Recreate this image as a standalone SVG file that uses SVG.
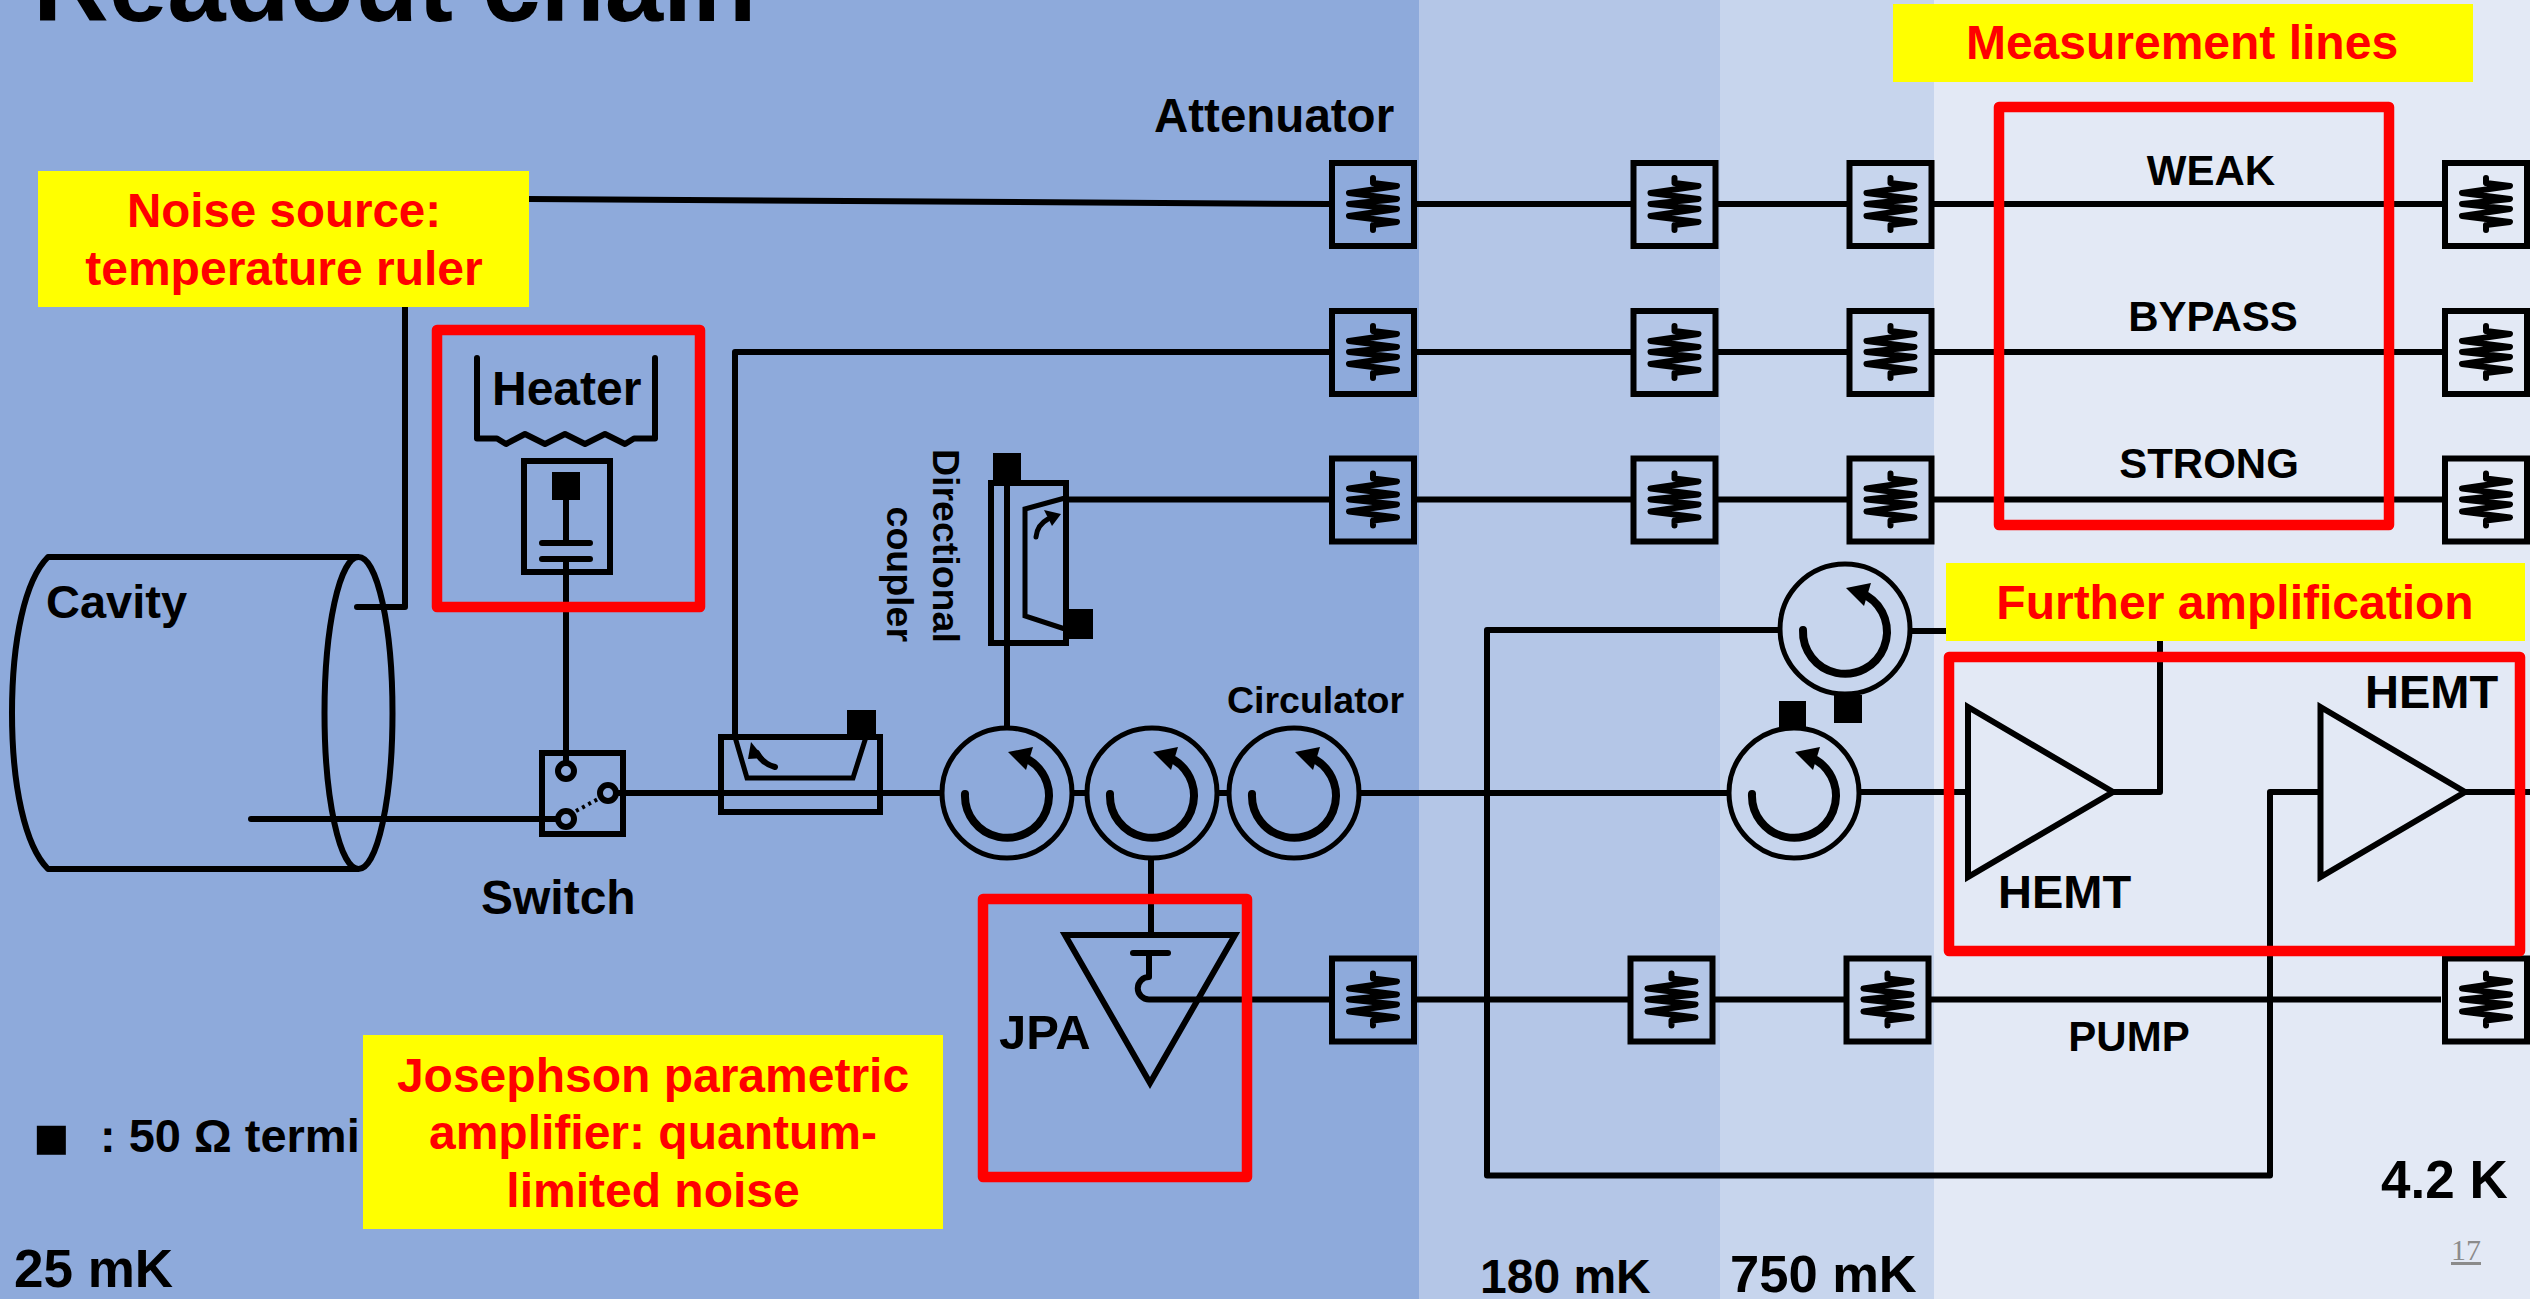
<svg xmlns="http://www.w3.org/2000/svg" xmlns:xlink="http://www.w3.org/1999/xlink" width="2530" height="1299" viewBox="0 0 2530 1299">
<style>
text{font-family:"Liberation Sans",Arial,sans-serif;font-weight:bold;fill:#000}
.red{fill:#f00;text-anchor:middle}
.mid{text-anchor:middle}
.ln{fill:none;stroke:#000;stroke-width:6;stroke-linejoin:round}
.tri{fill:none;stroke:#000;stroke-width:6;stroke-linejoin:miter;stroke-miterlimit:8}
.th{fill:none;stroke:#000;stroke-width:5}
.box{fill:none;stroke:#000;stroke-width:6}
.frame{fill:none;stroke:#f00;stroke-width:10.5;stroke-linejoin:round}
.yel{fill:#ff0}
.term{fill:#000}
</style>
<defs>
<g id="att">
<rect class="box" x="-41" y="-41" width="82" height="83"/>
<path d="M0,-26V-21L24,-18L-24,-11L24,-5L-24,0L24,5L-24,12L24,18L0,21V26" fill="none" stroke="#000" stroke-width="6" stroke-linecap="round" stroke-linejoin="round"/>
</g>
<g id="circ">
<circle r="65" fill="none" stroke="#000" stroke-width="5"/>
<path d="M-42,1A42,42 0 1 0 22,-33" fill="none" stroke="#000" stroke-width="8" stroke-linecap="round"/>
<path d="M1,-41L26,-46L19,-23Z" fill="#000"/>
</g>
</defs>

<g id="backgrounds">
<rect x="0" y="0" width="1419" height="1299" fill="#8eaadb"/>
<rect x="1419" y="0" width="301" height="1299" fill="#b4c6e7"/>
<rect x="1720" y="0" width="214" height="1299" fill="#c7d5ed"/>
<rect x="1934" y="0" width="596" height="1299" fill="#e3e9f5"/>
</g>

<text id="title" x="33" y="21" font-size="105">Readout chain</text>

<g id="connectors">
<path class="ln" d="M529,199L1329,204M1417,204H1631M1718,204H1847M1934,204H2442"/>
<path class="ln" d="M735,737V352H1329M1417,352H1631M1718,352H1847M1934,352H2442"/>
<path class="ln" d="M1064,499.500H1329M1417,499.500H1631M1718,499.500H1847M1934,499.500H2442"/>
<path class="ln" d="M1149,999.500H1329M1415,999.500H1628M1715,999.500H1844M1931,999.500H2441"/>
<path class="ln" d="M405,307V607H357" stroke-linecap="round"/>
<path class="ln" d="M251,819H557" stroke-linecap="round"/>
<path class="ln" d="M566,560V762"/>
<path class="ln" d="M618,793H941M1072,793H1087M1217,793H1229M1360,793H1729M1860,792H1967"/>
<path class="ln" d="M1007,726V482"/>
<path class="ln" d="M1151,860V935"/>
<path class="ln" d="M1780,630H1487V1175.500H2270V792H2320" stroke-linejoin="round"/>
<path class="ln" d="M1910,631H2160V792H2113"/>
<path class="ln" d="M2466,792H2530"/>
</g>

<g id="cavity">
<path class="ln" d="M359,557H48C25,580 12,640 12,713C12,786 25,846 48,869H359"/>
<ellipse class="ln" cx="358.500" cy="713" rx="34" ry="156"/>
<text x="46" y="618" font-size="47">Cavity</text>
</g>

<g id="heater">
<path class="ln" d="M477,358V438.500H497L506,444L525,434L545,444L565,434L585,444L605,434L625,444L634,438.500H655V358" stroke-linecap="round"/>
<text x="492" y="405" font-size="48">Heater</text>
<rect class="box" x="524" y="461" width="86" height="111"/>
<rect class="term" x="552" y="472" width="28" height="28"/>
<path class="ln" d="M566,500V543"/>
<path class="ln" d="M542,543H590M542,559H590" stroke-linecap="round"/>
</g>

<g id="switch">
<rect class="box" x="542" y="753" width="81" height="81"/>
<circle class="ln" cx="566" cy="771" r="8"/>
<circle class="ln" cx="608" cy="793" r="8"/>
<circle class="ln" cx="566" cy="819" r="8"/>
<path d="M576,811L598,799" fill="none" stroke="#000" stroke-width="4" stroke-dasharray="3 4"/>
<text x="481" y="914" font-size="48">Switch</text>
</g>

<g id="coupler-horizontal">
<rect class="box" x="721" y="737" width="159" height="75"/>
<path class="th" d="M735,737L747,778H853L866,737"/>
<rect class="term" x="847" y="710" width="29" height="26"/>
<path d="M775,767Q763,764 757,753" fill="none" stroke="#000" stroke-width="6" stroke-linecap="round"/>
<path d="M751,742L764,758L748,759Z" fill="#000"/>
</g>

<g id="coupler-vertical">
<rect class="box" x="991" y="483" width="75" height="160"/>
<path class="th" d="M1065,498L1025,509V616L1065,629"/>
<rect class="term" x="993" y="453" width="28" height="29"/>
<rect class="term" x="1069" y="609" width="24" height="30"/>
<path d="M1036,537Q1037,525 1048,519" fill="none" stroke="#000" stroke-width="5" stroke-linecap="round"/>
<path d="M1061,514L1044,510L1052,526Z" fill="#000"/>
<text transform="translate(933,449) rotate(90)" font-size="37.500">Directional</text>
<text transform="translate(887,642) rotate(90)" font-size="37.500" text-anchor="end">coupler</text>
</g>

<g id="circulators">
<use xlink:href="#circ" href="#circ" x="1007" y="793"/>
<use xlink:href="#circ" href="#circ" x="1152" y="793"/>
<use xlink:href="#circ" href="#circ" x="1294" y="793"/>
<use xlink:href="#circ" href="#circ" x="1845" y="629"/>
<use xlink:href="#circ" href="#circ" x="1794" y="793"/>
<rect class="term" x="1834" y="695" width="28" height="28"/>
<rect class="term" x="1779" y="701" width="27" height="27"/>
<text x="1227" y="713" font-size="37.500">Circulator</text>
</g>

<g id="attenuators">
<use xlink:href="#att" href="#att" x="1373" y="204"/>
<use xlink:href="#att" href="#att" x="1674.500" y="204"/>
<use xlink:href="#att" href="#att" x="1890.500" y="204"/>
<use xlink:href="#att" href="#att" x="2486" y="204"/>
<use xlink:href="#att" href="#att" x="1373" y="352"/>
<use xlink:href="#att" href="#att" x="1674.500" y="352"/>
<use xlink:href="#att" href="#att" x="1890.500" y="352"/>
<use xlink:href="#att" href="#att" x="2486" y="352"/>
<use xlink:href="#att" href="#att" x="1373" y="499.500"/>
<use xlink:href="#att" href="#att" x="1674.500" y="499.500"/>
<use xlink:href="#att" href="#att" x="1890.500" y="499.500"/>
<use xlink:href="#att" href="#att" x="2486" y="499.500"/>
<use xlink:href="#att" href="#att" x="1373" y="999.500"/>
<use xlink:href="#att" href="#att" x="1671.500" y="999.500"/>
<use xlink:href="#att" href="#att" x="1887.500" y="999.500"/>
<use xlink:href="#att" href="#att" x="2486" y="999.500"/>
<text x="1154" y="132" font-size="47.500">Attenuator</text>
</g>

<g id="jpa">
<path class="tri" d="M1065,935H1235L1150,1083Z"/>
<path class="ln" d="M1133,953H1168" stroke-linecap="round"/>
<path class="ln" d="M1149,953V977A11,11 0 0 0 1149,999.500" stroke-linejoin="round"/>
<text x="999" y="1049" font-size="49">JPA</text>
</g>

<g id="hemt-1">
<path class="tri" d="M1968,707L2113,792L1968,877Z"/>
<text x="1998" y="908" font-size="47">HEMT</text>
</g>
<g id="hemt-2">
<path class="tri" d="M2320.500,707L2465,792L2320.500,877Z"/>
<text x="2365" y="708" font-size="47">HEMT</text>
</g>

<g id="frames">
<rect class="frame" x="437" y="330" width="263" height="277"/>
<rect class="frame" x="983" y="899" width="264" height="278"/>
<rect class="frame" x="1999" y="107" width="390" height="418"/>
<rect class="frame" x="1949" y="657" width="571" height="294"/>
</g>

<g id="line-labels">
<text class="mid" x="2211" y="185" font-size="42">WEAK</text>
<text class="mid" x="2213" y="331" font-size="42">BYPASS</text>
<text class="mid" x="2209" y="478" font-size="42">STRONG</text>
<text class="mid" x="2129" y="1051" font-size="42">PUMP</text>
</g>

<g id="noise-source">
<rect class="yel" x="38" y="171" width="491" height="136"/>
<text class="red" x="284" y="227" font-size="47.500">Noise source:</text>
<text class="red" x="284" y="285" font-size="48">temperature ruler</text>
</g>
<g id="measurement-lines">
<rect class="yel" x="1893" y="4" width="580" height="78"/>
<text class="red" x="2182" y="59" font-size="48">Measurement lines</text>
</g>
<g id="further-amplification">
<rect class="yel" x="1946" y="563" width="579" height="78"/>
<text class="red" x="2235" y="619" font-size="48">Further amplification</text>
</g>
<text id="term-note" y="1152" font-size="47"><tspan x="33" y="1158" font-size="60">■</tspan><tspan x="100" y="1152">: 50 Ω termi</tspan></text>
<g id="jpa-label">
<rect class="yel" x="363" y="1035" width="580" height="194"/>
<text class="red" x="653" y="1092" font-size="48">Josephson parametric</text>
<text class="red" x="653" y="1149" font-size="48">amplifier: quantum-</text>
<text class="red" x="653" y="1207" font-size="48">limited noise</text>
</g>

<g id="stage-labels">
<text x="14" y="1287" font-size="53">25 mK</text>
<text x="1480" y="1293" font-size="48">180 mK</text>
<text x="1730" y="1292" font-size="52.500">750 mK</text>
<text x="2381" y="1198" font-size="53">4.2 K</text>
</g>
<text id="page" x="2451" y="1260" font-size="30" style="font-family:'Liberation Serif',serif;font-weight:normal;fill:#8b8b8b;text-decoration:underline">17</text>
</svg>
